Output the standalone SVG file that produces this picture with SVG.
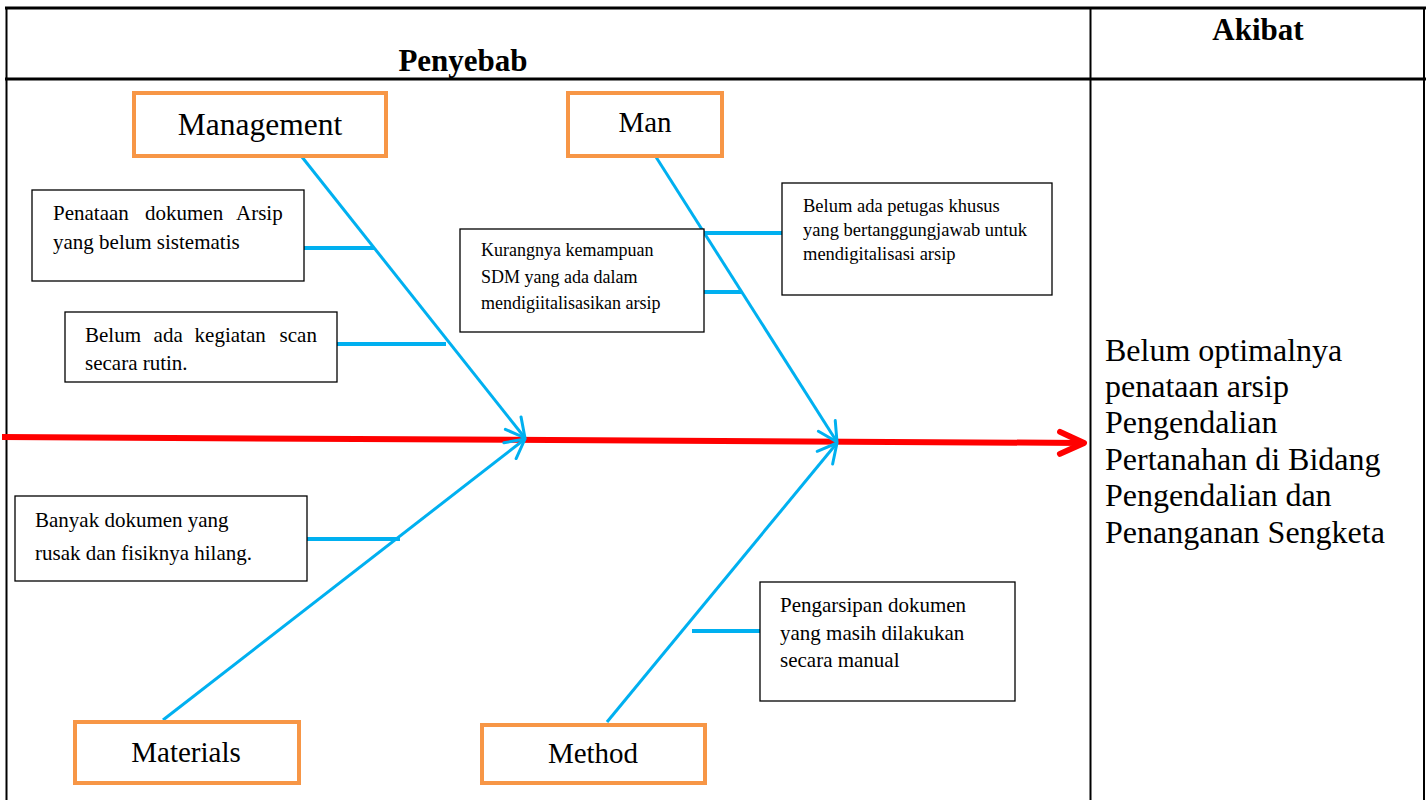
<svg xmlns="http://www.w3.org/2000/svg" width="1426" height="800" viewBox="0 0 1426 800" font-family="'Liberation Serif', 'Times New Roman', serif">
<style>
text{font-family:'Liberation Serif','Times New Roman',serif;fill:#000}
.h{font-size:31px;font-weight:bold}
.cat{fill:#fff;stroke:#F79646;stroke-width:4}
.cause{fill:#fff;stroke:#000;stroke-width:1.3}
.bone{stroke:#00B0F0;stroke-width:3;fill:none}
.sub{stroke:#00B0F0;stroke-width:4;fill:none}
.grid{stroke:#000;fill:none}
.c21{font-size:21px}
.c18{font-size:18px}
</style>
<defs>
<marker id="ab" viewBox="0 0 24 24" refX="21" refY="12" markerWidth="24" markerHeight="24" markerUnits="userSpaceOnUse" orient="auto">
<path d="M2,2 L21,12 L2,22" fill="none" stroke="#00B0F0" stroke-width="3" stroke-linecap="round" stroke-linejoin="round"/>
</marker>
<marker id="ar" viewBox="0 0 34 34" refX="29" refY="17" markerWidth="34" markerHeight="34" markerUnits="userSpaceOnUse" orient="auto">
<path d="M5,6 L29,17 L5,28" fill="none" stroke="#FF0000" stroke-width="6" stroke-linecap="round" stroke-linejoin="round"/>
</marker>
</defs>
<rect width="1426" height="800" fill="#fff"/>
<g id="table">
<line class="grid" x1="5" y1="8" x2="1426" y2="8" stroke-width="3"/>
<line class="grid" x1="5" y1="79" x2="1426" y2="79" stroke-width="3"/>
<line class="grid" x1="6.5" y1="7" x2="6.5" y2="800" stroke-width="2"/>
<line class="grid" x1="1090.5" y1="8" x2="1090.5" y2="800" stroke-width="2"/>
<line class="grid" x1="1424" y1="8" x2="1424" y2="800" stroke-width="2"/>
<text class="h" x="463" y="71" text-anchor="middle">Penyebab</text>
<text class="h" x="1258" y="40" text-anchor="middle">Akibat</text>
</g>
<g id="connectors">
<line x1="2" y1="437" x2="1084" y2="443" stroke="#FF0000" stroke-width="6" marker-end="url(#ar)"/>
<line class="bone" x1="302" y1="157" x2="525" y2="438" marker-end="url(#ab)"/>
<line class="bone" x1="656" y1="157" x2="837" y2="442" marker-end="url(#ab)"/>
<line class="bone" x1="163" y1="720" x2="525" y2="439" marker-end="url(#ab)"/>
<line class="bone" x1="607" y1="722" x2="837" y2="443" marker-end="url(#ab)"/>
<line class="sub" x1="304" y1="248" x2="374" y2="248"/>
<line class="sub" x1="337" y1="344" x2="446" y2="344"/>
<line class="sub" x1="704" y1="233" x2="782" y2="233"/>
<line class="sub" x1="704" y1="292" x2="742" y2="292"/>
<line class="sub" x1="307" y1="539" x2="400" y2="539"/>
<line class="sub" x1="692" y1="631" x2="760" y2="631"/>
</g>
<g id="management">
<rect class="cat" x="134" y="93" width="252" height="63"/>
<text x="260" y="135" font-size="31.5" text-anchor="middle">Management</text>
</g>
<g id="man">
<rect class="cat" x="568" y="93" width="154" height="63"/>
<text x="645" y="132" font-size="29" text-anchor="middle">Man</text>
</g>
<g id="materials">
<rect class="cat" x="75" y="722" width="224" height="61"/>
<text x="186" y="762" font-size="29" text-anchor="middle">Materials</text>
</g>
<g id="method">
<rect class="cat" x="482" y="725" width="223" height="58"/>
<text x="593" y="763" font-size="29" text-anchor="middle">Method</text>
</g>
<g id="cause-penataan">
<rect class="cause" x="32" y="190" width="272" height="91"/>
<text class="c21" y="220"><tspan x="53">Penataan</tspan><tspan x="145">dokumen</tspan><tspan x="236">Arsip</tspan></text>
<text class="c21" x="53" y="249">yang belum sistematis</text>
</g>
<g id="cause-scan">
<rect class="cause" x="65" y="312" width="272" height="70"/>
<text class="c21" y="342"><tspan x="85">Belum</tspan><tspan x="153.6">ada</tspan><tspan x="194.6">kegiatan</tspan><tspan x="279.6">scan</tspan></text>
<text class="c21" x="85" y="370">secara rutin.</text>
</g>
<g id="cause-sdm">
<rect class="cause" x="460" y="229" width="244" height="103"/>
<text class="c18" x="481" y="256">Kurangnya kemampuan</text>
<text class="c18" x="481" y="283">SDM yang ada dalam</text>
<text class="c18" x="481" y="309">mendigiitalisasikan arsip</text>
</g>
<g id="cause-petugas">
<rect class="cause" x="782" y="183" width="270" height="112"/>
<text x="803" y="212" font-size="18.5">Belum ada petugas khusus</text>
<text x="803" y="236" font-size="18.5">yang bertanggungjawab untuk</text>
<text x="803" y="260" font-size="18.5">mendigitalisasi arsip</text>
</g>
<g id="cause-rusak">
<rect class="cause" x="15" y="496" width="292" height="85"/>
<text class="c21" x="35" y="527">Banyak dokumen yang</text>
<text class="c21" x="35" y="560">rusak dan fisiknya hilang.</text>
</g>
<g id="cause-manual">
<rect class="cause" x="760" y="582" width="255" height="119"/>
<text class="c21" x="780" y="612">Pengarsipan dokumen</text>
<text class="c21" x="780" y="640">yang masih dilakukan</text>
<text class="c21" x="780" y="667">secara manual</text>
</g>
<g id="effect">
<text x="1105" y="360.5" font-size="32">Belum optimalnya</text>
<text x="1105" y="397" font-size="32">penataan arsip</text>
<text x="1105" y="433.3" font-size="32">Pengendalian</text>
<text x="1105" y="469.7" font-size="32">Pertanahan di Bidang</text>
<text x="1105" y="506.1" font-size="32">Pengendalian dan</text>
<text x="1105" y="542.5" font-size="32">Penanganan Sengketa</text>
</g>
</svg>
